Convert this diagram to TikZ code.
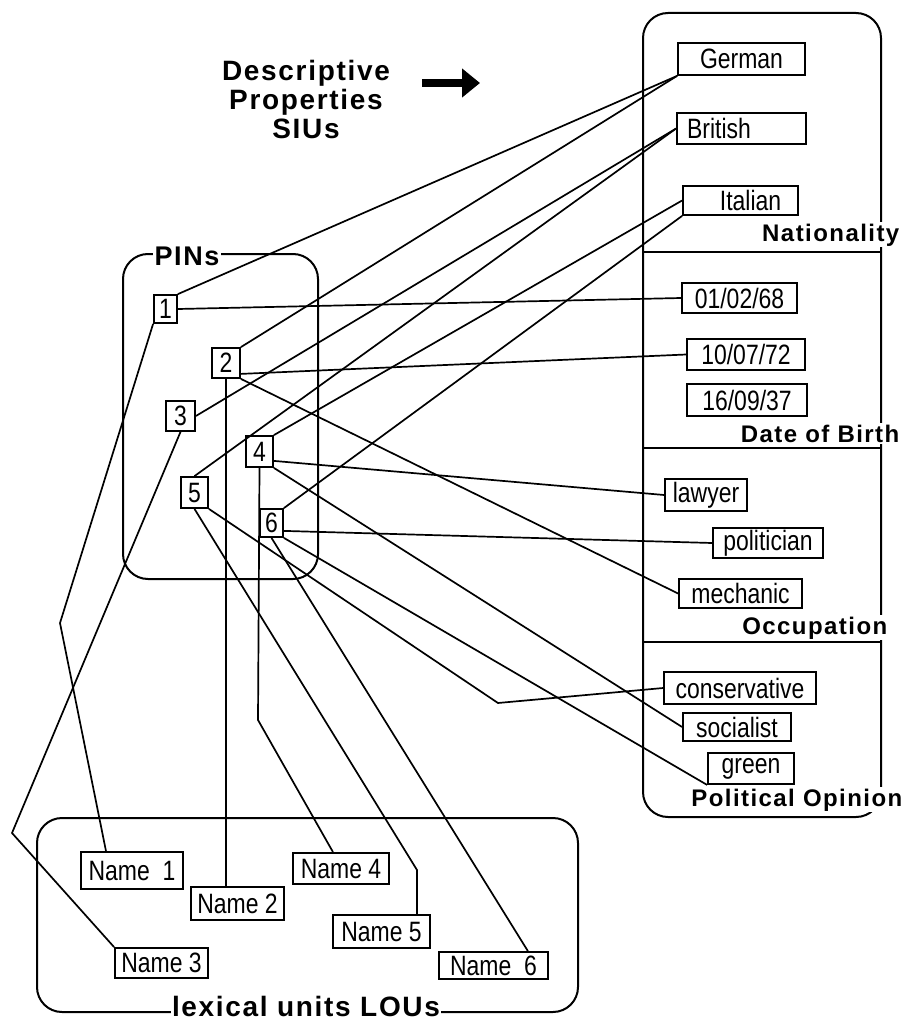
\documentclass[tikz,border=0pt]{standalone}
\usepackage{fontspec}
\setmainfont{Liberation Sans}
\newfontfamily\boxfont[FakeStretch=0.82]{Liberation Sans}
\newfontfamily\labfont[LetterSpace=6]{Liberation Sans}
\usetikzlibrary{arrows.meta,calc}
\begin{document}
\begin{tikzpicture}[x=1pt,y=-1pt,
  val/.style={draw, line width=1.8pt, inner sep=0pt, font=\boxfont\fontsize{28}{30}\selectfont},
  pin/.style={val},
  cat/.style={fill=white, inner sep=1.5pt, anchor=base east, font=\labfont\bfseries\fontsize{24}{26}\selectfont},
  link/.style={line width=1.7pt},
  frame/.style={line width=2pt, rounded corners=25pt},
  sep/.style={line width=2pt}]
\useasboundingbox (0,0) rectangle (907,1022);

% frames
\draw[frame] (123,254) rectangle (318,579);
\draw[frame] (643,13) rectangle (881,817);
\draw[frame] (37,818) rectangle (578,1012);
\draw[sep] (643,252) -- (881,252);
\draw[sep] (643,448) -- (881,448);
\draw[sep] (643,642) -- (881,642);

% labels
\node[cat] (natl) at (901,241) {Nationality};
\node[cat] (dobl) at (901,442) {Date of Birth};
\node[cat] (occl) at (889,634) {Occupation};
\node[cat] (poll) at (904,806) {Political Opinion};
\node[cat, anchor=center, font=\labfont\bfseries\fontsize{27}{28}\selectfont] (pinsl) at (187,256) {PINs};
\node[cat, anchor=center, inner sep=1pt, font=\labfont\bfseries\fontsize{28}{29}\selectfont] (lousl) at (306,1006) {lexical units LOUs};
\node[anchor=center, align=center, inner sep=0pt, font=\labfont\bfseries\fontsize{28}{29}\selectfont] (title) at (306,99) {Descriptive\\Properties\\SIUs};

% arrow
\coordinate (aS) at (422,83);
\coordinate (aE) at (480,83);
\draw[line width=8pt, -{Triangle[length=18pt,width=28pt]}] (aS) -- (aE);

% property values
\node[val, minimum width=127pt, minimum height=32pt] (german) at (741.5,59) {German};
\node[val, minimum width=129pt, minimum height=31pt] (british) at (741.5,128.5) {British\hspace*{45pt}};
\node[val, minimum width=115pt, minimum height=29pt] (italian) at (740.5,200.5) {\hspace*{20pt}Italian};
\node[val, minimum width=115pt, minimum height=30pt] (d1) at (739.5,298) {01/02/68};
\node[val, minimum width=118pt, minimum height=31pt] (d2) at (746,354.5) {10/07/72};
\node[val, minimum width=120pt, minimum height=32pt] (d3) at (747,400) {16/09/37};
\node[val, minimum width=82pt, minimum height=32pt] (lawyer) at (706,495) {lawyer};
\node[val, minimum width=110pt, minimum height=30pt] (politician) at (768,543) {politician};
\node[val, minimum width=123pt, minimum height=29pt] (mechanic) at (740.5,593.5) {mechanic};
\node[val, minimum width=152pt, minimum height=32pt] (conservative) at (740,688) {conservative};
\node[val, minimum width=108pt, minimum height=28pt] (socialist) at (737,727) {socialist};
\node[val, minimum width=86pt, minimum height=31pt] (green) at (751,768.5) {green};

% PINs
\node[pin, minimum width=23pt, minimum height=28pt] (p1) at (165.5,309) {1};
\node[pin, minimum width=28pt, minimum height=30pt] (p2) at (226,363) {2};
\node[pin, minimum width=29pt, minimum height=30pt] (p3) at (180.5,416) {3};
\node[pin, minimum width=27pt, minimum height=31pt] (p4) at (259.5,451.5) {4};
\node[pin, minimum width=27pt, minimum height=31pt] (p5) at (194.5,492.5) {5};
\node[pin, minimum width=23pt, minimum height=28pt] (p6) at (271.5,523) {6};

% lexical units
\node[val, minimum width=102pt, minimum height=37pt] (n1) at (132,870.5) {Name\ \ 1};
\node[val, minimum width=93pt, minimum height=33pt] (n2) at (237.5,903.5) {Name 2};
\node[val, minimum width=93pt, minimum height=30pt] (n3) at (161.5,963) {Name 3};
\node[val, minimum width=96pt, minimum height=31pt] (n4) at (341,868.5) {Name 4};
\node[val, minimum width=97pt, minimum height=33pt] (n5) at (381.5,931.5) {Name 5};
\node[val, minimum width=109pt, minimum height=27pt] (n6) at (493.5,965.5) {Name\ \ 6};

% bend points
\coordinate (c1) at (60,623);
\coordinate (c3) at (12,833);
\coordinate (c4) at (258,720);
\coordinate (c5) at (498,703);
\coordinate (c5b) at (417,870);

% links to properties
\draw[link] (p1.north east) -- (german.south west);
\draw[link] (p2.north east) -- (german.south west);
\draw[link] (p3.east) -- (british.west);
\draw[link] (p5.north) -- (british.west);
\draw[link] (p4.north east) -- (italian.west);
\draw[link] (p6.north east) -- (italian.south west);
\draw[link] (p1.east) -- (d1.west);
\draw[link] ([yshift=5pt]p2.south east) -- (d2.west);
\draw[link] ([yshift=7pt]p4.south east) -- (lawyer.west);
\draw[link] ([yshift=7pt]p6.south east) -- (politician.west);
\draw[link] (p2.south east) -- (mechanic.west);
\draw[link] (p5.south east) -- (c5) -- (conservative.west);
\draw[link] (p4.south east) -- (socialist.west);
\draw[link] (p6.south east) -- (green.south west);

% links to lexical units
\draw[link] (p1.south west) -- (c1) -- ([xshift=-26pt]n1.north);
\draw[link] (p3.south) -- (c3) -- (n3.north west);
\draw[link] (p2.south) -- (p2.south |- n2.north);
\draw[link] (p4.south) -- (c4) -- ([xshift=-8pt]n4.north);
\draw[link] (p5.south) -- (c5b) -- (c5b |- n5.north);
\draw[link] (p6.south) -- ([xshift=-21pt]n6.north east);
\end{tikzpicture}
\end{document}
